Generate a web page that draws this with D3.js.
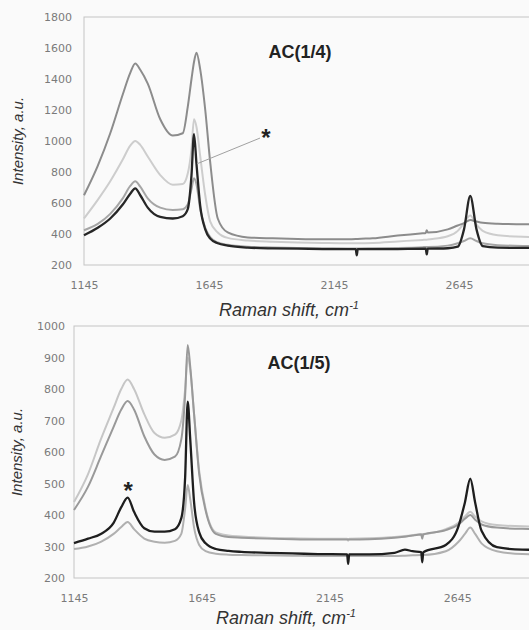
<!DOCTYPE html>
<html lang="en">
  <head>
    <meta charset="UTF-8" />
    <title>Raman spectra AC(1/4), AC(1/5)</title>
    <script src="https://d3js.org/d3.v7.min.js"></script>
    <style>
      html,
      body {
        margin: 0;
        padding: 0;
        background: #fafafa;
        overflow: hidden;
      }
      .tick text {
        font-family: "DejaVu Sans", sans-serif;
        font-size: 11px;
        fill: #7a7a7a;
      }
      .axis-title {
        font-family: "Liberation Sans", Arial, sans-serif;
        font-style: italic;
        font-size: 15px;
        fill: #333;
      }
      .panel-title {
        font-family: "Liberation Sans", Arial, sans-serif;
        font-weight: bold;
        font-size: 18px;
        fill: #222;
      }
    </style>
  </head>
  <body>
    <div id="viz"></div>

    <script>
      // shared tick labels
      const xTicks = [1145, 1645, 2145, 2645];
      const topYTicks = [200, 400, 600, 800, 1000, 1200, 1400, 1600, 1800];
      const botYTicks = [200, 300, 400, 500, 600, 700, 800, 900, 1000];

      // ---- AC(1/4) spectra (Raman shift, intensity) ----
      const topX = [1145, 1200, 1250, 1300, 1330, 1350, 1370, 1400, 1450, 1500, 1540, 1560, 1575, 1585, 1595, 1610, 1630, 1650, 1680, 1720, 1800, 1900, 2000, 2100, 2200, 2232, 2236, 2240, 2300, 2400, 2500, 2512, 2516, 2520, 2600, 2640, 2665, 2690, 2715, 2740, 2800, 2900, 3145];
      const topDarkGrey = [650, 840, 1050, 1300, 1440, 1500, 1460, 1370, 1140, 1035, 1050, 1220, 1400, 1510, 1570, 1460, 1200, 860, 500, 410, 378, 372, 368, 366, 366, 367, 367, 368, 372, 390, 405, 407, 425, 409, 430, 455, 470, 490, 480, 472, 466, 463, 460];
      const topLightGrey = [500, 620, 740, 880, 970, 1000, 975, 900, 780, 718, 722, 790, 950, 1140, 1090, 900, 650, 480, 410, 375, 358, 350, 345, 342, 340, 340, 340, 340, 342, 352, 362, 363, 363, 364, 385, 420, 470, 520, 460, 420, 392, 382, 377];
      const topMidGrey = [424, 465, 530, 630, 710, 740, 705, 630, 570, 555, 560, 590, 690, 760, 720, 560, 440, 380, 345, 330, 318, 313, 310, 308, 307, 307, 307, 307, 308, 310, 315, 316, 316, 316, 325, 340, 355, 373, 355, 340, 328, 323, 320];
      const topBlack = [392, 440, 500, 590, 660, 695, 650, 570, 510, 500, 515, 560, 780, 1045, 850, 580, 430, 370, 340, 325, 312, 307, 305, 303, 302, 302, 262, 302, 302, 303, 305, 305, 268, 305, 308, 318, 430, 645, 430, 322, 312, 310, 309];

      // ---- AC(1/5) spectra ----
      const botX = [1145, 1200, 1250, 1300, 1330, 1355, 1380, 1420, 1460, 1500, 1540, 1565, 1580, 1590, 1600, 1615, 1635, 1660, 1700, 1750, 1800, 1900, 2000, 2100, 2214, 2218, 2222, 2300, 2400, 2440, 2470, 2504, 2508, 2512, 2600, 2650, 2675, 2696, 2715, 2740, 2800, 2900, 3145];
      const botLightGrey = [441, 530, 640, 740, 800, 830, 800, 720, 660, 645, 655, 700, 800, 900, 860, 720, 540, 420, 345, 335, 332, 328, 326, 325, 325, 318, 325, 326, 330, 333, 336, 340, 340, 340, 355, 375, 395, 410, 395, 380, 368, 364, 362];
      const botMidGrey = [416, 490, 585, 680, 735, 762, 735, 650, 592, 575, 585, 640, 780, 940, 870, 720, 530, 415, 340, 330, 328, 325, 323, 322, 322, 322, 322, 323, 328, 331, 335, 338, 325, 338, 352, 370, 388, 400, 385, 370, 360, 356, 355];
      const botBlack = [311, 325, 340, 375, 425, 455, 410, 358, 347, 347, 355, 390, 520, 760, 640, 440, 345, 310, 292, 286, 283, 280, 278, 276, 275, 245, 275, 275, 280, 290, 285, 282, 250, 282, 305, 365, 440, 515, 440, 350, 298, 290, 288];
      const botPaleGrey = [292, 300, 315, 340, 362, 378, 355, 325, 315, 312, 318, 340, 420, 495, 450, 360, 305, 285, 277, 274, 273, 272, 271, 270, 270, 270, 270, 270, 270, 271, 272, 273, 273, 273, 285, 315, 340, 360, 340, 310, 285, 276, 274];

      // annotations (data space)
      const topStar = { x: 1873, y: 1051 };
      const topLeader = [
        [1597, 853],
        [1849, 1019],
      ];
      const botStar = { x: 1357, y: 492 };

      const width = 529;
      const height = 630;

      const svg = d3
        .select("#viz")
        .append("svg")
        .attr("width", width)
        .attr("height", height);

      svg.append("rect").attr("width", width).attr("height", height).attr("fill", "#fafafa");

      function drawPanel(p) {
        const x = d3.scaleLinear().domain([1145, 3145]).range([p.left, p.right]);
        const y = d3.scaleLinear().domain(p.yDomain).range([p.bottom, p.top]);

        // plot frame
        svg
          .append("rect")
          .attr("x", p.left)
          .attr("y", p.top)
          .attr("width", p.right - p.left)
          .attr("height", p.bottom - p.top)
          .attr("fill", "none")
          .attr("stroke", "#c4c4c4")
          .attr("stroke-width", 1);

        const yAxis = svg
          .append("g")
          .attr("transform", `translate(${p.left},0)`)
          .call(d3.axisLeft(y).tickValues(p.yTicks).tickSize(0).tickPadding(p.yPad).tickFormat(d3.format("d")));
        yAxis.select(".domain").remove();
        yAxis.selectAll(".tick text").attr("font-family", null).attr("font-size", null);

        const xAxis = svg
          .append("g")
          .attr("transform", `translate(0,${p.bottom})`)
          .call(d3.axisBottom(x).tickValues(xTicks).tickSize(0).tickPadding(16).tickFormat(d3.format("d")));
        xAxis.select(".domain").remove();
        xAxis.selectAll(".tick text").attr("font-family", null).attr("font-size", null);

        const line = d3
          .line()
          .x((d) => x(d[0]))
          .y((d) => y(d[1]))
          .curve(d3.curveMonotoneX);

        p.series.forEach((s) => {
          svg
            .append("path")
            .datum(p.xs.map((v, i) => [v, s.values[i]]))
            .attr("fill", "none")
            .attr("stroke", s.color)
            .attr("stroke-width", s.width)
            .attr("stroke-linejoin", "round")
            .attr("d", line);
        });

        if (p.leader) {
          svg
            .append("line")
            .attr("x1", x(p.leader[0][0]))
            .attr("y1", y(p.leader[0][1]))
            .attr("x2", x(p.leader[1][0]))
            .attr("y2", y(p.leader[1][1]))
            .attr("stroke", "#a0a0a0")
            .attr("stroke-width", 1);
        }

        svg
          .append("text")
          .attr("x", x(p.star.x))
          .attr("y", y(p.star.y) + 13)
          .attr("text-anchor", "middle")
          .attr("font-family", "Liberation Sans, Arial, sans-serif")
          .attr("font-weight", "bold")
          .attr("font-size", 24)
          .attr("fill", "#222")
          .text("*");

        svg
          .append("text")
          .attr("class", "panel-title")
          .attr("x", p.titleX)
          .attr("y", p.titleY)
          .attr("text-anchor", "middle")
          .text(p.title);

        svg
          .append("text")
          .attr("class", "axis-title")
          .attr("text-anchor", "middle")
          .attr("transform", `translate(${p.yTitleX},${(p.top + p.bottom) / 2}) rotate(-90)`)
          .text("Intensity, a.u.");

        const xt = svg
          .append("text")
          .attr("class", "axis-title")
          .attr("x", p.xTitleX)
          .attr("y", p.xTitleY)
          .attr("font-size", 18)
          .style("font-size", "18px")
          .attr("text-anchor", "middle");
        xt.append("tspan").text("Raman shift, cm");
        xt.append("tspan").attr("dy", -7).style("font-size", "11px").text("-1");
      }

      drawPanel({
        left: 84,
        right: 584,
        top: 17,
        bottom: 265,
        yDomain: [200, 1800],
        yTicks: topYTicks,
        yPad: 12,
        xs: topX,
        series: [
          { values: topLightGrey, color: "#cdcdcd", width: 2 },
          { values: topMidGrey, color: "#a6a6a6", width: 2 },
          { values: topDarkGrey, color: "#8c8c8c", width: 2 },
          { values: topBlack, color: "#262626", width: 2.3 },
        ],
        leader: topLeader,
        star: topStar,
        title: "AC(1/4)",
        titleX: 300,
        titleY: 58,
        yTitleX: 23,
        xTitleX: 289,
        xTitleY: 316,
      });

      drawPanel({
        left: 74,
        right: 585,
        top: 326,
        bottom: 578,
        yDomain: [200, 1000],
        yTicks: botYTicks,
        yPad: 9,
        xs: botX,
        series: [
          { values: botLightGrey, color: "#c6c6c6", width: 2 },
          { values: botPaleGrey, color: "#b0b0b0", width: 2 },
          { values: botMidGrey, color: "#999999", width: 2 },
          { values: botBlack, color: "#1e1e1e", width: 2.3 },
        ],
        leader: null,
        star: botStar,
        title: "AC(1/5)",
        titleX: 299,
        titleY: 369,
        yTitleX: 22,
        xTitleX: 286,
        xTitleY: 624,
      });
    </script>
  </body>
</html>
